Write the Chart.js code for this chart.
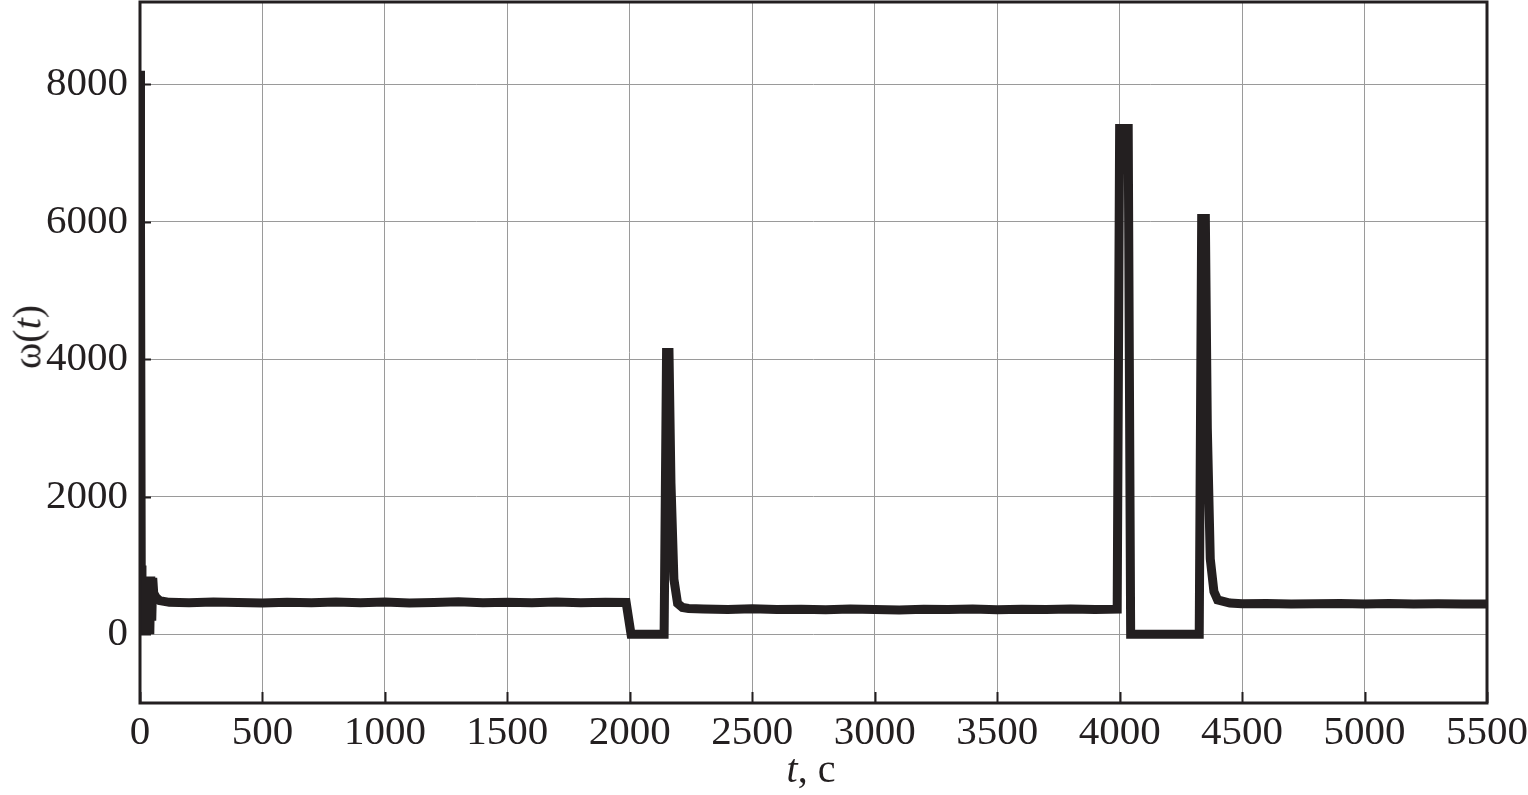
<!DOCTYPE html>
<html lang="ru">
<head>
    <meta charset="UTF-8">
    <title>omega(t)</title>
    <style>
        body {
            margin: 0;
            background: #ffffff;
            font-family: 'Liberation Serif', 'Times New Roman', serif;
            color: #231f20;
        }
        .wrap {
            position: relative;
            width: 1528px;
            height: 795px;
        }
        .ylabel {
            position: absolute;
            left: 27px;
            top: 337px;
            transform: translate(-50%, -50%) rotate(-90deg);
            font-size: 40px;
            white-space: nowrap;
        }
        .xlabel {
            position: absolute;
            left: 811px;
            top: 768px;
            transform: translate(-50%, -50%);
            font-size: 40px;
            white-space: nowrap;
        }
    </style>
</head>
<body>
    <div class="wrap">
        <canvas id="chart" width="1528" height="795"></canvas>
        <div class="ylabel">ω(<i>t</i>)</div>
        <div class="xlabel"><i>t</i>, с</div>
    </div>

    <script src="https://cdn.jsdelivr.net/npm/chart.js"></script>
    <script>
        // time, s
        const times = [
            0, 2, 5, 8, 12, 16, 20, 24, 28, 32, 36, 40, 44, 48, 52, 56, 65, 80, 120,
            200, 300, 400, 500, 600, 700, 800, 900, 1000, 1100, 1200, 1300, 1400,
            1500, 1600, 1700, 1800, 1900, 1985,
            2005, 2015, 2080, 2140, 2150, 2160, 2168, 2180, 2195, 2215, 2240,
            2300, 2400, 2500, 2600, 2700, 2800, 2900, 3000, 3100, 3200, 3300,
            3400, 3500, 3600, 3700, 3800, 3900, 3990,
            4000, 4035, 4045, 4100, 4200, 4325, 4335, 4350, 4358, 4370, 4385, 4400,
            4450, 4500, 4600, 4700, 4800, 4900, 5000, 5100, 5200, 5300, 5400, 5500
        ];
        // omega(t)
        const omega = [
            8200, 6000, 1000, 0, 840, 0, 840, 100, 840, 0, 820, 0, 840, 200, 820, 600, 540, 490, 465,
            460, 468, 462, 455, 465, 458, 470, 460, 468, 455, 462, 472, 458,
            465, 460, 468, 458, 465, 462,
            0, 0, 0, 0, 4100, 4100, 2200, 800, 450, 390, 375,
            368, 362, 370, 360, 365, 358, 366, 362, 355, 364, 360,
            367, 358, 364, 362, 368, 360, 365,
            7360, 7360, 0, 0, 0, 0, 6050, 6050, 3000, 1100, 620, 500,
            455, 445, 448, 440, 445, 448, 442, 446, 440, 444, 442, 442
        ];
        const xTicks = [0, 500, 1000, 1500, 2000, 2500, 3000, 3500, 4000, 4500, 5000, 5500];
        const yTicks = [0, 2000, 4000, 6000, 8000];

        const ink = '#231f20';

        // frame and inward tick marks
        const framePlugin = {
            id: 'frame',
            afterDraw(chart) {
                const ctx = chart.ctx;
                const a = chart.chartArea;
                const xs = chart.scales.x;
                const ys = chart.scales.y;
                ctx.save();
                ctx.strokeStyle = ink;
                ctx.lineWidth = 2;
                xTicks.forEach(v => {
                    const px = Math.round(xs.getPixelForValue(v)) + 0.5;
                    ctx.beginPath();
                    ctx.moveTo(px, a.bottom);
                    ctx.lineTo(px, a.bottom - 11);
                    ctx.stroke();
                });
                yTicks.forEach(v => {
                    const py = Math.round(ys.getPixelForValue(v)) + 0.5;
                    ctx.beginPath();
                    ctx.moveTo(a.left, py);
                    ctx.lineTo(a.left + 11, py);
                    ctx.stroke();
                });
                ctx.lineWidth = 3;
                ctx.strokeRect(a.left, a.top, a.right - a.left, a.bottom - a.top);
                ctx.restore();
            }
        };

        const noPad = s => {
            s.paddingTop = 0;
            s.paddingBottom = 0;
            s.paddingLeft = 0;
            s.paddingRight = 0;
        };

        new Chart(document.getElementById('chart'), {
            type: 'line',
            data: {
                datasets: [{
                    data: times.map((t, i) => ({ x: t, y: omega[i] })),
                    borderColor: ink,
                    borderWidth: 9,
                    pointRadius: 0,
                    tension: 0,
                    borderJoinStyle: 'miter',
                    fill: false
                }]
            },
            options: {
                responsive: false,
                animation: false,
                layout: { padding: { top: 2, right: 41, left: 0, bottom: 0 } },
                plugins: {
                    legend: { display: false },
                    tooltip: { enabled: false }
                },
                scales: {
                    x: {
                        type: 'linear',
                        min: 0,
                        max: 5500,
                        afterBuildTicks: s => { s.ticks = xTicks.map(v => ({ value: v })); },
                        afterFit: s => { s.height = 92; noPad(s); },
                        grid: { color: '#9a9a9a', lineWidth: 1, drawTicks: false },
                        border: { display: false },
                        ticks: {
                            color: ink,
                            padding: 6,
                            maxRotation: 0,
                            autoSkip: false,
                            callback: v => String(v),
                            font: { family: "'Liberation Serif', serif", size: 41 }
                        }
                    },
                    y: {
                        type: 'linear',
                        min: -1000,
                        max: 9200,
                        afterBuildTicks: s => { s.ticks = yTicks.map(v => ({ value: v })); },
                        afterFit: s => { s.width = 140; noPad(s); },
                        grid: { color: '#9a9a9a', lineWidth: 1, drawTicks: false },
                        border: { display: false },
                        ticks: {
                            color: ink,
                            padding: 12,
                            callback: v => String(v),
                            font: { family: "'Liberation Serif', serif", size: 41 }
                        }
                    }
                }
            },
            plugins: [framePlugin]
        });
    </script>
</body>
</html>
